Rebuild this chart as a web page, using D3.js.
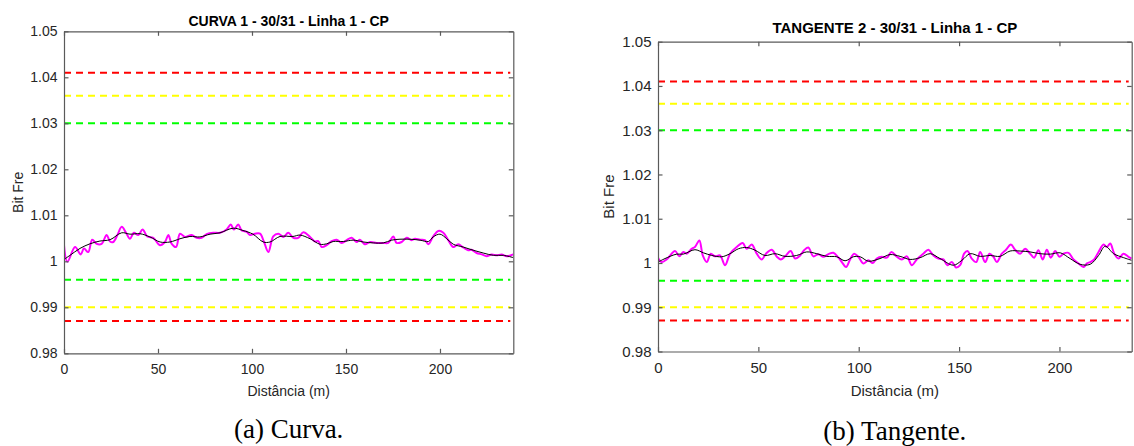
<!DOCTYPE html>
<html>
<head>
<meta charset="utf-8">
<script src="https://cdn.jsdelivr.net/npm/d3@7"></script>
<style>
  body { margin: 0; background: #fff; }
  svg { display: block; }
</style>
</head>
<body>
<div id="chart"></div>
<script>
let svgWidth = 1134;
let svgHeight = 446;

// tick values shared by both panels
let xTicks = [0, 50, 100, 150, 200];
let yTicks = [0.98, 0.99, 1.00, 1.01, 1.02, 1.03, 1.04, 1.05];

// limit lines (value, colour name)
let limitValues = [1.041, 1.036, 1.030, 0.996, 0.990, 0.987];
let limitColors = ["red", "yellow", "green", "green", "yellow", "red"];

// (a) Curva - raw signal
let curvaRawDist = [0, 1.8, 5.9, 8.9, 10.6, 12.9, 15, 17.4, 20, 22.7, 24.5, 26.2, 28.4, 30.7, 33, 35.1, 37.2, 39.5, 41.8, 44.3, 47.5, 51, 53.7, 55.5, 57.3, 59.6, 61.7, 64.4, 67.9, 70.6, 73.2, 75.9, 79.4, 83, 86.5, 88.7, 90.4, 92.7, 94.5, 97.2, 98.9, 101.6, 104.3, 106.4, 108.7, 111.3, 114, 116.7, 119.3, 122, 124.6, 127.3, 130.9, 133.5, 135.3, 137.1, 139.7, 142.4, 145, 147.7, 150.4, 153, 155.7, 157.4, 160.1, 162.8, 166.3, 169.9, 172.5, 175.2, 176.9, 179.6, 182.3, 184.9, 186.7, 189.4, 192, 193.8, 196.4, 199.1, 201.8, 204.4, 207.1, 209.7, 212.4, 215, 216.8, 219.5, 222.2, 224.8, 227.5, 230.2, 232.8, 235.5, 239];
let curvaRawVal = [1.0035, 0.9999, 1.0031, 1.0015, 1.0028, 1.0020, 1.0047, 1.0038, 1.0038, 1.0057, 1.0043, 1.0042, 1.0057, 1.0075, 1.0062, 1.0049, 1.0062, 1.0057, 1.0069, 1.0054, 1.0051, 1.0035, 1.0042, 1.0057, 1.0038, 1.0031, 1.0060, 1.0053, 1.0057, 1.0051, 1.0051, 1.0059, 1.0062, 1.0062, 1.0069, 1.0080, 1.0069, 1.0080, 1.0067, 1.0064, 1.0057, 1.0060, 1.0060, 1.0042, 1.0020, 1.0054, 1.0060, 1.0053, 1.0062, 1.0051, 1.0051, 1.0063, 1.0053, 1.0043, 1.0044, 1.0031, 1.0035, 1.0044, 1.0047, 1.0040, 1.0046, 1.0051, 1.0042, 1.0047, 1.0037, 1.0042, 1.0040, 1.0040, 1.0040, 1.0054, 1.0040, 1.0042, 1.0051, 1.0046, 1.0049, 1.0047, 1.0046, 1.0037, 1.0054, 1.0066, 1.0062, 1.0046, 1.0031, 1.0037, 1.0030, 1.0024, 1.0025, 1.0018, 1.0015, 1.0011, 1.0015, 1.0013, 1.0015, 1.0011, 1.0015];

// (a) Curva - moving average
let curvaAvgDist = [0, 3.2, 8.5, 13.8, 19.1, 24.5, 30.7, 35.1, 40.4, 45.7, 51.1, 56.4, 61.7, 67, 72.3, 77.7, 83, 90, 95.2, 100.5, 106, 109.6, 114.9, 121.8, 125.5, 130.9, 136.2, 139.7, 143.2, 148.6, 153.9, 159.2, 164.5, 169.9, 174.3, 178.7, 184, 189.4, 193.8, 196.4, 200, 203.6, 207.1, 212.4, 217.7, 223, 228.4, 233.7, 239];
let curvaAvgVal = [1.0004, 1.0013, 1.0028, 1.0038, 1.0044, 1.0047, 1.0062, 1.0059, 1.0060, 1.0053, 1.0042, 1.0042, 1.0049, 1.0054, 1.0053, 1.0059, 1.0062, 1.0072, 1.0067, 1.0059, 1.0042, 1.0042, 1.0054, 1.0054, 1.0057, 1.0049, 1.0037, 1.0038, 1.0043, 1.0043, 1.0046, 1.0042, 1.0040, 1.0040, 1.0046, 1.0048, 1.0048, 1.0046, 1.0043, 1.0053, 1.0059, 1.0049, 1.0037, 1.0031, 1.0024, 1.0018, 1.0013, 1.0013, 1.0008];

// (b) Tangente - raw signal
let tangRawDist = [0, 1.8, 4.3, 8.5, 10.6, 12.6, 14.3, 16.8, 18.4, 20.6, 22.3, 24.3, 26.3, 28.4, 30.9, 33.4, 35.9, 39.2, 42.2, 44.2, 46.7, 49.2, 51.7, 53.8, 56.7, 59.2, 61.2, 63.3, 66.1, 68.3, 70.8, 72.8, 74.9, 77.4, 79.9, 82.4, 84.9, 87.4, 89.9, 91.6, 93.7, 95.7, 97.7, 99.8, 102.3, 104.8, 107, 109, 111.5, 114, 116.3, 119, 121.5, 124, 126.4, 128.9, 132.2, 134.7, 137.2, 139.7, 142.2, 144.2, 146.4, 148.5, 150.5, 152.5, 154.2, 156.3, 158.5, 160.5, 163, 165.1, 167.1, 168.8, 171.3, 173.4, 175.8, 177.9, 180.4, 182.9, 185.4, 187.4, 189.5, 191.7, 193.7, 195.7, 197.9, 200, 202, 204.5, 207, 209.5, 212, 213.7, 215.3, 217.3, 219.5, 222, 223.6, 225.3, 227.3, 229.4, 231.9, 234.4, 236];
let tangRawVal = [1.0012, 1.0002, 1.0008, 1.0027, 1.0015, 1.0025, 1.0021, 1.0032, 1.0036, 1.0051, 1.0017, 1.0002, 1.0021, 1.0015, 1.0017, 0.9995, 1.0021, 1.0036, 1.0045, 1.0032, 1.0042, 1.0021, 1.0008, 1.0021, 1.0030, 1.0014, 1.0008, 1.0015, 1.0027, 1.0010, 1.0017, 1.0029, 1.0035, 1.0015, 1.0020, 1.0014, 1.0020, 1.0023, 1.0012, 1.0002, 0.9991, 1.0008, 1.0021, 1.0014, 0.9999, 1.0006, 1.0000, 1.0010, 1.0014, 1.0012, 1.0025, 1.0014, 1.0008, 1.0015, 0.9995, 1.0008, 1.0021, 1.0030, 1.0017, 1.0010, 1.0008, 0.9995, 1.0002, 0.9990, 0.9995, 1.0021, 1.0027, 1.0010, 1.0002, 1.0025, 1.0002, 1.0021, 1.0014, 1.0002, 1.0021, 1.0030, 1.0042, 1.0030, 1.0021, 1.0032, 1.0021, 1.0012, 1.0029, 1.0008, 1.0030, 1.0012, 1.0027, 1.0014, 1.0021, 1.0023, 1.0008, 0.9999, 0.9991, 0.9999, 1.0002, 1.0008, 1.0025, 1.0042, 1.0036, 1.0044, 1.0021, 1.0010, 1.0021, 1.0014, 1.0010];

// (b) Tangente - moving average
let tangAvgDist = [0, 3.5, 9.3, 12.6, 18.4, 22.6, 26.8, 31.7, 35.9, 40, 44.2, 48.3, 53.3, 58.3, 63.3, 69.1, 74.1, 79.1, 84.1, 89.1, 93.2, 97.3, 100.7, 104.8, 110.6, 115.6, 120.6, 125.6, 130.6, 135.6, 140.5, 147.2, 151.4, 155.5, 160.5, 165.5, 170.4, 175.4, 180.4, 185.4, 190.4, 195.4, 200.4, 205.3, 210.3, 215.3, 219.5, 222.8, 227, 232, 236];
let tangAvgVal = [1.0002, 1.0010, 1.0020, 1.0020, 1.0030, 1.0023, 1.0017, 1.0014, 1.0021, 1.0032, 1.0035, 1.0029, 1.0017, 1.0021, 1.0015, 1.0017, 1.0025, 1.0021, 1.0015, 1.0014, 1.0005, 1.0014, 1.0014, 1.0004, 1.0010, 1.0019, 1.0015, 1.0008, 1.0012, 1.0021, 1.0010, 0.9995, 1.0006, 1.0021, 1.0015, 1.0017, 1.0015, 1.0027, 1.0027, 1.0025, 1.0021, 1.0020, 1.0023, 1.0010, 0.9997, 0.9997, 1.0017, 1.0038, 1.0021, 1.0012, 1.0006];

let colorMap = { red: "#ff0000", yellow: "#ffff00", green: "#00ff00" };

let svg = d3.select("#chart")
  .append("svg")
  .attr("width", svgWidth)
  .attr("height", svgHeight);

// one panel = box axes, limit lines, two series, labels and caption
function drawPanel(p) {
  let xScale = d3.scaleLinear().domain([0, p.xMax]).range([p.left, p.right]);
  let yScale = d3.scaleLinear().domain([0.98, 1.05]).range([p.bottom, p.top]);

  let clipId = "clip-" + p.id;
  svg.append("clipPath")
    .attr("id", clipId)
    .append("rect")
    .attr("x", p.left)
    .attr("y", p.top)
    .attr("width", p.right - p.left)
    .attr("height", p.bottom - p.top);

  let plot = svg.append("g").attr("clip-path", `url(#${clipId})`);

  // limit lines
  limitValues.forEach(function(v, i) {
    plot.append("line")
      .attr("x1", xScale(0))
      .attr("x2", xScale(p.xMax) - 3)
      .attr("y1", yScale(v))
      .attr("y2", yScale(v))
      .attr("stroke", colorMap[limitColors[i]])
      .attr("stroke-width", 2)
      .attr("stroke-dasharray", "7,5");
  });

  let line = d3.line()
    .x(d => xScale(d[0]))
    .y(d => yScale(d[1]))
    .curve(d3.curveCatmullRom.alpha(0.5));

  let raw = p.rawDist.map((d, i) => [d, p.rawVal[i]]);
  let avg = p.avgDist.map((d, i) => [d, p.avgVal[i]]);

  plot.append("path")
    .datum(raw)
    .attr("d", line)
    .attr("fill", "none")
    .attr("stroke", "#ff00ff")
    .attr("stroke-width", 2);

  plot.append("path")
    .datum(avg)
    .attr("d", line)
    .attr("fill", "none")
    .attr("stroke", "#000")
    .attr("stroke-width", 1);

  let fmt = d => String(+d.toFixed(2));

  // axes, ticks pointing inwards
  let xAxis = svg.append("g")
    .attr("transform", `translate(0, ${p.bottom})`)
    .call(d3.axisBottom(xScale).tickValues(xTicks).tickSize(-4.5).tickSizeOuter(0));
  xAxis.selectAll("text").attr("dy", null).attr("y", p.xLabelOff);

  svg.append("g")
    .attr("transform", `translate(0, ${p.top})`)
    .call(d3.axisTop(xScale).tickValues(xTicks).tickSize(-4.5).tickSizeOuter(0).tickFormat(""));

  let yAxis = svg.append("g")
    .attr("transform", `translate(${p.left}, 0)`)
    .call(d3.axisLeft(yScale).tickValues(yTicks).tickSize(-4.5).tickSizeOuter(0).tickPadding(6.5).tickFormat(fmt));

  svg.append("g")
    .attr("transform", `translate(${p.right}, 0)`)
    .call(d3.axisRight(yScale).tickValues(yTicks).tickSize(-4.5).tickSizeOuter(0).tickFormat(""));

  svg.selectAll(".domain, .tick line").attr("stroke", "#5a5a5a").attr("stroke-width", 1.2);
  svg.selectAll(".tick text")
    .attr("fill", "#262626")
    .style("font-family", "'Liberation Sans', Arial, sans-serif");
  xAxis.selectAll("text").style("font-size", p.font + "px");
  yAxis.selectAll("text").style("font-size", p.font + "px");

  let cx = (p.left + p.right) / 2;
  let cy = (p.top + p.bottom) / 2;

  svg.append("text")
    .attr("x", cx)
    .attr("y", p.titleY)
    .attr("text-anchor", "middle")
    .style("font-family", "'Liberation Sans', Arial, sans-serif")
    .style("font-weight", "bold")
    .style("font-size", p.font + "px")
    .attr("fill", "#000")
    .text(p.title);

  svg.append("text")
    .attr("x", cx)
    .attr("y", p.xTitleY)
    .attr("text-anchor", "middle")
    .style("font-family", "'Liberation Sans', Arial, sans-serif")
    .style("font-size", p.font + "px")
    .attr("fill", "#262626")
    .text("Distância (m)");

  svg.append("text")
    .attr("transform", `translate(${p.yTitleX}, ${cy}) rotate(-90)`)
    .attr("text-anchor", "middle")
    .attr("dy", "0.35em")
    .style("font-family", "'Liberation Sans', Arial, sans-serif")
    .style("font-size", p.font + "px")
    .attr("fill", "#262626")
    .text("Bit Fre");

  svg.append("text")
    .attr("x", cx)
    .attr("y", p.captionY)
    .attr("text-anchor", "middle")
    .style("font-family", "'Liberation Serif', 'Times New Roman', serif")
    .style("font-size", "27px")
    .attr("fill", "#000")
    .text(p.caption);
}

drawPanel({
  id: "a", left: 64, right: 513.3, top: 31.3, bottom: 353.3, xMax: 239,
  font: 14, xLabelOff: 20.4, titleY: 26, xTitleY: 395.7, yTitleX: 18, captionY: 437.5,
  title: "CURVA 1 - 30/31 - Linha 1 - CP", caption: "(a) Curva.",
  rawDist: curvaRawDist, rawVal: curvaRawVal, avgDist: curvaAvgDist, avgVal: curvaAvgVal
});

drawPanel({
  id: "b", left: 658, right: 1131.7, top: 41.7, bottom: 351.5, xMax: 236,
  font: 15, xLabelOff: 21.5, titleY: 33.3, xTitleY: 395.5, yTitleX: 609, captionY: 440,
  title: "TANGENTE 2 - 30/31 - Linha 1 - CP", caption: "(b) Tangente.",
  rawDist: tangRawDist, rawVal: tangRawVal, avgDist: tangAvgDist, avgVal: tangAvgVal
});
</script>
</body>
</html>
